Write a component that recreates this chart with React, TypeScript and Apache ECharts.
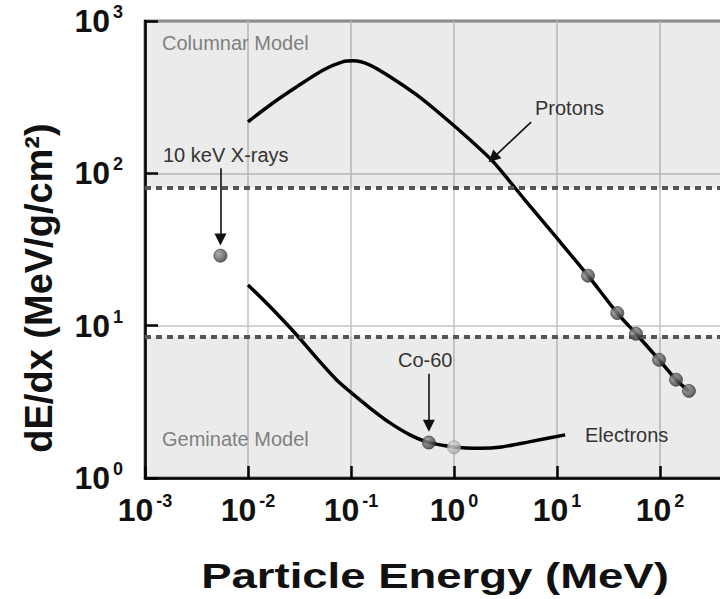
import React, { useEffect, useRef } from "react";
import * as echarts from "echarts";

// Proton stopping power curve (MeV, MeV/g/cm2)
const protonEnergy = [0.01, 0.0164, 0.0297, 0.0538, 0.0841, 0.105, 0.153, 0.239, 0.435, 0.787, 1.43, 2.41, 4.89, 10, 20, 38.5, 58.5, 98, 143, 191];
const protonDEdx = [218, 281, 370, 477, 541, 548, 514, 431, 327, 236, 166, 119, 66.8, 37.5, 21.3, 12.1, 8.85, 5.97, 4.42, 3.73];

// Electron stopping power curve
const electronEnergy = [0.01, 0.0164, 0.0297, 0.0464, 0.0726, 0.0977, 0.153, 0.239, 0.374, 0.56, 1.0, 1.79, 2.9, 5.2, 12];
const electronDEdx = [18.5, 13.3, 8.69, 6.13, 4.4, 3.69, 2.88, 2.3, 1.92, 1.72, 1.6, 1.57, 1.6, 1.72, 1.92];

// Marked points
const protonDotEnergy = [20, 38.5, 58.5, 98, 143, 191];
const protonDotDEdx = [21.3, 12.1, 8.85, 5.97, 4.42, 3.73];
const xrayPoint = [0.0054, 28.8];
const co60Point = [0.57, 1.71];
const oneMeVPoint = [1.0, 1.59];

// Model thresholds
const columnarThreshold = 80;
const geminateThreshold = 8.5;

// Axis ranges
const xMin = 0.001;
const xMax = 1000;
const yMin = 1;
const yMax = 1000;

const FONT = "'Liberation Sans', Arial, Helvetica, sans-serif";

const zip = (a: number[], b: number[]) => a.map((v, i) => [v, b[i]]);

const sphere = (light: string, dark: string) =>
  new echarts.graphic.RadialGradient(0.35, 0.35, 0.75, [
    { offset: 0, color: light },
    { offset: 1, color: dark },
  ]);

const powLabel = (hideAbove: number) => (value: number) => {
  const exp = Math.round(Math.log10(value));
  if (exp > hideAbove) return "";
  return `{b|10}{s|${exp}}`;
};

const labelRich = {
  b: { fontSize: 32, fontWeight: "bold", fontFamily: FONT, color: "#111", lineHeight: 36 },
  s: { fontSize: 18, fontWeight: "bold", fontFamily: FONT, color: "#111", verticalAlign: "top", lineHeight: 18, padding: [0, 0, 0, 3] },
};

export default function App() {
  const ref = useRef<HTMLDivElement>(null);

  useEffect(() => {
    if (!ref.current) return;
    const chart = echarts.init(ref.current, null, { renderer: "svg" });

    const option: any = {
      animation: false,
      backgroundColor: "#ffffff",
      grid: {
        left: 145,
        top: 21,
        width: 618,
        height: 457,
        containLabel: false,
        outerBoundsMode: "none",
        show: true,
        borderColor: "#000",
        borderWidth: 2.5,
        backgroundColor: "transparent",
      },
      xAxis: {
        type: "log",
        logBase: 10,
        min: xMin,
        max: xMax,
        axisLine: { show: true, onZero: false, lineStyle: { color: "#000", width: 2.5 } },
        axisTick: { show: true, inside: true, length: 12, lineStyle: { color: "#000", width: 2.5 } },
        splitLine: { show: true, lineStyle: { color: "#c4c4c4", width: 1.5 } },
        axisLabel: { margin: 14, formatter: powLabel(2), rich: labelRich },
      },
      yAxis: {
        type: "log",
        logBase: 10,
        min: yMin,
        max: yMax,
        axisLine: { show: true, onZero: false, lineStyle: { color: "#000", width: 2.5 } },
        axisTick: { show: true, inside: true, length: 13, lineStyle: { color: "#000", width: 2.5 } },
        splitLine: { show: true, lineStyle: { color: "#c4c4c4", width: 1.5 } },
        axisLabel: { margin: 22, formatter: powLabel(3), rich: labelRich },
      },
      series: [
        {
          name: "regions",
          type: "line",
          data: [],
          z: 1,
          silent: true,
          markArea: {
            silent: true,
            itemStyle: { color: "rgba(0,0,0,0.08)" },
            data: [
              [{ yAxis: columnarThreshold }, { yAxis: yMax }],
              [{ yAxis: yMin }, { yAxis: geminateThreshold }],
            ],
          },
          markLine: {
            silent: true,
            symbol: ["none", "none"],
            label: { show: false },
            lineStyle: { color: "#555", width: 4, type: [6, 5] },
            data: [{ yAxis: columnarThreshold }, { yAxis: geminateThreshold }],
          },
        },
        {
          name: "Protons",
          type: "line",
          data: zip(protonEnergy, protonDEdx),
          symbol: "none",
          smooth: 0.25,
          z: 3,
          lineStyle: { color: "#000", width: 3.5 },
        },
        {
          name: "Electrons",
          type: "line",
          data: zip(electronEnergy, electronDEdx),
          symbol: "none",
          smooth: 0.25,
          z: 3,
          lineStyle: { color: "#000", width: 3.5 },
        },
        {
          name: "arrows",
          type: "line",
          data: [],
          z: 5,
          markLine: {
            silent: true,
            symbol: ["none", "triangle"],
            symbolSize: 12,
            label: { show: false },
            lineStyle: { color: "#111", width: 1.6, type: "solid" },
            data: [
              [{ coord: [xrayPoint[0], 108] }, { coord: [xrayPoint[0], 36.8] }],
              [{ coord: [co60Point[0], 4.83] }, { coord: [co60Point[0], 2.2] }],
              [{ coord: [5.6, 217] }, { coord: [2.39, 126] }],
            ],
          },
        },
        {
          name: "proton points",
          type: "scatter",
          data: zip(protonDotEnergy, protonDotDEdx),
          symbol: "circle",
          symbolSize: 13,
          z: 6,
          itemStyle: { color: sphere("#9a9a9a", "#2e2e2e"), borderColor: "#333", borderWidth: 0.8 },
        },
        {
          name: "x-ray point",
          type: "scatter",
          data: [xrayPoint],
          symbol: "circle",
          symbolSize: 13,
          z: 6,
          itemStyle: { color: sphere("#9a9a9a", "#2e2e2e"), borderColor: "#333", borderWidth: 0.8 },
        },
        {
          name: "Co-60 point",
          type: "scatter",
          data: [co60Point],
          symbol: "circle",
          symbolSize: 13,
          z: 6,
          itemStyle: { color: sphere("#9a9a9a", "#2e2e2e"), borderColor: "#333", borderWidth: 0.8 },
        },
        {
          name: "1 MeV point",
          type: "scatter",
          data: [oneMeVPoint],
          symbol: "circle",
          symbolSize: 13,
          z: 6,
          itemStyle: { color: sphere("#e0e0e0", "#9a9a9a"), borderColor: "#999", borderWidth: 0.8 },
        },
      ],
      graphic: [
        { type: "text", left: 162, top: 33, z: 10, style: { text: "Columnar Model", fontSize: 20, fontFamily: FONT, fill: "#808080" } },
        { type: "text", left: 162, top: 429, z: 10, style: { text: "Geminate Model", fontSize: 20, fontFamily: FONT, fill: "#808080" } },
        { type: "text", left: 163, top: 145, z: 10, style: { text: "10 keV X-rays", fontSize: 20, fontFamily: FONT, fill: "#333" } },
        { type: "text", left: 535, top: 98, z: 10, style: { text: "Protons", fontSize: 20, fontFamily: FONT, fill: "#333" } },
        { type: "text", left: 398, top: 350, z: 10, style: { text: "Co-60", fontSize: 20, fontFamily: FONT, fill: "#333" } },
        { type: "text", left: 585, top: 425, z: 10, style: { text: "Electrons", fontSize: 20, fontFamily: FONT, fill: "#333" } },
        {
          type: "text",
          x: 39,
          y: 288,
          rotation: Math.PI / 2,
          z: 10,
          style: { text: "dE/dx (MeV/g/cm²)", fontSize: 38, fontWeight: "bold", fontFamily: FONT, fill: "#111", align: "center", verticalAlign: "middle" },
        },
        {
          type: "text",
          x: 435,
          y: 576,
          scaleX: 1.3,
          z: 10,
          style: { text: "Particle Energy (MeV)", fontSize: 35, fontWeight: "bold", fontFamily: FONT, fill: "#111", align: "center", verticalAlign: "middle" },
        },
      ],
    };

    chart.setOption(option);
    return () => chart.dispose();
  }, []);

  return <div ref={ref} style={{ position: "fixed", left: 0, top: 0, width: 720, height: 599 }} />;
}
